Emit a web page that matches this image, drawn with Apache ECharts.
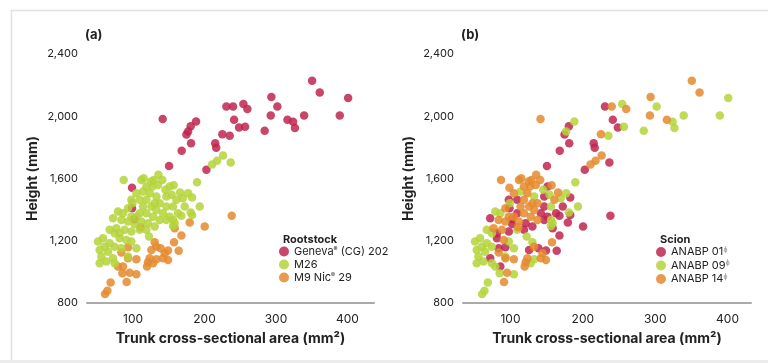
<!DOCTYPE html>
<html>
<head>
<meta charset="utf-8">
<script src="https://cdn.jsdelivr.net/npm/echarts@6/dist/echarts.min.js"></script>
<style>
html,body{margin:0;padding:0;background:#fff;}
#c{width:768px;height:363px;}
</style>
</head>
<body>
<div id="c"></div>
<script>
// Trunk cross-sectional area (mm²), height (mm)
const geneva = [
[350.6,2228],[361.3,2153],[401,2117],[293.6,2123],[302,2063],[292.7,2005],[339.4,2005],[389.3,2005],
[316.1,1977],[324,1965],[326.6,1924],[284.2,1907],[230.6,2063],[240,2063],[254.4,2078],[260,2046],
[241.4,1977],[248.4,1928],[256.8,1932],[225,1885],[235.3,1875],[215,1827],[216.4,1797],[202.7,1656],
[188.2,1967],[180.7,1935],[177,1902],[174.7,1883],[181.2,1827],[168.1,1778],[150.4,1681],[141.5,1982],
[98.6,1540],[98.6,1409],[101.9,1338]
];
const genevaScion = [14,14,9,14,9,14,9,9, 14,9,9,9,1,14,9,14, 1,1,9,14,9,1,1,1, 9,1,9,1,1,1,1,14, 14,1,1];

const m26 = [
[86.9,1591],[111.7,1591],[114.9,1602],[125.2,1581],[135.5,1624],[128.9,1591],[141.1,1591],[127.1,1549],
[135.0,1559],[151.3,1549],[156.9,1557],[145.3,1527],[165.8,1510],[154.1,1495],[177.0,1506],[182.6,1478],
[189.6,1576],[169.5,1473],[160.7,1463],[172.3,1420],[193.3,1420],[180.7,1381],[182.6,1366],[167.7,1360],
[156.0,1295],[158.3,1313],[146.7,1420],[137.3,1441],[132.7,1484],[123.3,1506],[114.0,1516],[104.7,1506],
[97.7,1463],[109.3,1463],[118.7,1463],[125.7,1420],[132.7,1398],[142.0,1377],[151.3,1355],[156.0,1334],
[137.3,1334],[128.0,1355],[118.7,1377],[109.3,1377],[104.7,1355],[99.1,1441],[93.0,1409],[86.0,1377],
[79.0,1388],[72.0,1345],[83.7,1334],[93.0,1323],[102.3,1308],[111.7,1323],[121.0,1313],[130.3,1291],
[118.7,1270],[109.3,1270],[97.7,1259],[88.3,1270],[76.7,1280],[67.3,1270],[74.3,1248],[81.3,1216],
[90.7,1205],[97.7,1195],[104.7,1152],[93.0,1098],[83.7,1152],[74.3,1162],[67.3,1184],[58.0,1216],
[51.0,1195],[60.3,1162],[65.0,1130],[53.3,1141],[55.7,1098],[62.7,1066],[72.0,1087],[53.3,1055],
[74.3,1055],[122.4,1227],[226.0,1748],[217.6,1714],[210.6,1690],[236.7,1703],
[118.7,1549],[146.7,1484],[156.0,1420],[163,1377],[130.3,1441],[114,1420],[146.7,1334],[97.7,1355],[81.3,1248]
];
const m26Scion = [
14,14,14,14,14,14,14,14, 14,1,14,9,14,9,9,1, 9,9,14,1,9,9,1,1, 9,9,1,14,9,14,9,14,
1,1,14,14,14,1,1,9, 14,14,14,1,14,9,14,9, 9,1,14,14,1,14,1,1, 1,9,1,14,14,9,9,1,
14,9,9,9,1,9,9,9, 9,9,9,9,9,9,1,9, 9,9,14,14,14,1,
14,1,9,1,14,14,1,14,1
];

const m9 = [
[60.8,858],[64.1,879],[68.7,931],[91.1,935],[79,1034],[86,1034],[85.1,991],[95.3,995],
[104.7,984],[93.0,1087],[104.7,1081],[93.0,1158],[83.7,1124],[110.7,1287],[158.3,1280],[179.3,1317],
[200.3,1291],[238.1,1360],[167.7,1233],[157.4,1190],[163.9,1135],[149.0,1137],[149.0,1077],[130.3,1190],
[132.7,1162],[125.7,1141],[138.7,1152],[142.0,1087],[132.7,1081],[123.3,1087],[121.0,1062],[119.6,1034],
[128.0,1055],[144.3,1120]
];
const m9Scion = [9,9,9,14,9,1,9,14, 9,14,14,1,14,14,1,1, 1,1,1,14,1,1,14,9, 14,1,1,14,9,14,14,14, 9,14];

const xTicks = [100, 200, 300, 400];
const yMin = 800, yMax = 2400, yStep = 400;

const rootNames = ['Geneva® (CG) 202', 'M26', 'M9 Nic® 29'];
const scionNames = ['ANABP 01', 'ANABP 09', 'ANABP 14'];
const scionCodes = [1, 9, 14];

const RED = '#c0244f', GREEN = '#b4d43a', ORANGE = '#e5892e';
const colors = [RED, GREEN, ORANGE];

function bySc(code) {
  const out = [];
  [[geneva, genevaScion], [m26, m26Scion], [m9, m9Scion]].forEach(([pts, sc]) => {
    pts.forEach((p, i) => { if (sc[i] === code) out.push(p); });
  });
  return out;
}

const FONT = 'Inter, "Liberation Sans", sans-serif';
const chart = echarts.init(document.getElementById('c'), null, {renderer: 'canvas'});

function xAxisDef(gi, mn, mx) {
  return {
    type: 'value', gridIndex: gi, min: mn, max: mx,
    name: 'Trunk cross-sectional area (mm²)', nameLocation: 'middle', nameGap: 29,
    nameTextStyle: {fontFamily: FONT, fontSize: 14, fontWeight: 'bold', color: '#222'},
    axisLine: {show: true, lineStyle: {color: '#aaaaaa', width: 2}},
    axisTick: {show: false},
    splitLine: {show: false},
    axisLabel: {customValues: xTicks, fontFamily: FONT, fontSize: 12, color: '#222', margin: 10}
  };
}
function yAxisDef(gi) {
  return {
    type: 'value', gridIndex: gi, min: yMin, max: yMax, interval: yStep,
    name: 'Height (mm)', nameLocation: 'middle', nameGap: 47, nameRotate: 90,
    nameTextStyle: {fontFamily: FONT, fontSize: 14, fontWeight: 'bold', color: '#222'},
    axisLine: {show: false}, axisTick: {show: false}, splitLine: {show: false},
    axisLabel: {fontFamily: FONT, fontSize: 11, color: '#222', margin: 9,
      formatter: v => v.toLocaleString('en-US')}
  };
}

const rich = {
  t: {fontFamily: FONT, fontSize: 11, color: '#222'},
  s: {fontFamily: FONT, fontSize: 6, color: '#222', verticalAlign: 'top', padding: [0,0,5,0]},
  p: {fontFamily: FONT, fontSize: 7, color: '#999', padding: [0,0,5,0]}
};

const series = [];
[geneva, m26, m9].forEach((d, i) => {
  series.push({type: 'scatter', name: rootNames[i], xAxisIndex: 0, yAxisIndex: 0, data: d,
    symbol: 'circle', symbolSize: 8.5, itemStyle: {color: colors[i], opacity: 0.85}, z: i === 0 ? 2 : (i === 1 ? 4 : 3)});
});
scionCodes.forEach((c, i) => {
  series.push({type: 'scatter', name: scionNames[i], xAxisIndex: 1, yAxisIndex: 1, data: bySc(c),
    symbol: 'circle', symbolSize: 8.5, itemStyle: {color: colors[i], opacity: 0.85}, z: 2 + i});
});

const legendCommon = {
  orient: 'vertical', icon: 'circle', itemWidth: 10, itemHeight: 10, itemGap: 2,
  selectedMode: false, padding: 0,
  textStyle: {fontFamily: FONT, fontSize: 11, color: '#222', rich: rich}
};

chart.setOption({
  animation: false,
  backgroundColor: '#fff',
  graphic: [
    {type: 'rect', left: 9, top: 8, shape: {width: 790, height: 352}, style: {fill: 'none', stroke: '#e2e2e2', lineWidth: 1.5}, silent: true},
    {type: 'rect', left: 0, top: 360, shape: {width: 768, height: 5}, style: {fill: '#ececec'}, silent: true}
  ],
  title: [
    {text: '(a)', left: 80, top: 24, textStyle: {fontFamily: FONT, fontSize: 13, fontWeight: 'bold', color: '#222'}},
    {text: '(b)', left: 456, top: 24, textStyle: {fontFamily: FONT, fontSize: 13, fontWeight: 'bold', color: '#222'}},
    {text: 'Rootstock', left: 278, top: 229, textStyle: {fontFamily: FONT, fontSize: 11, fontWeight: 'bold', color: '#222'}},
    {text: 'Scion', left: 655, top: 229, textStyle: {fontFamily: FONT, fontSize: 11, fontWeight: 'bold', color: '#222'}}
  ],
  grid: [
    {left: 87, top: 54, width: 287, height: 249},
    {left: 463, top: 54, width: 288, height: 249}
  ],
  xAxis: [xAxisDef(0, 35.6, 437.2), xAxisDef(1, 34.4, 432.4)],
  yAxis: [yAxisDef(0), yAxisDef(1)],
  legend: [
    Object.assign({}, legendCommon, {left: 279, top: 246, data: rootNames,
      formatter: n => n === 'M26' ? '{t|M26}' : n.startsWith('Geneva') ? '{t|Geneva}{s|®}{t| (CG) 202}' : '{t|M9 Nic}{s|®}{t| 29}'}),
    Object.assign({}, legendCommon, {left: 656, top: 246, data: scionNames,
      formatter: n => '{t|' + n + '}{p|ɸ}'})
  ],
  series: series
});
</script>
</body>
</html>
